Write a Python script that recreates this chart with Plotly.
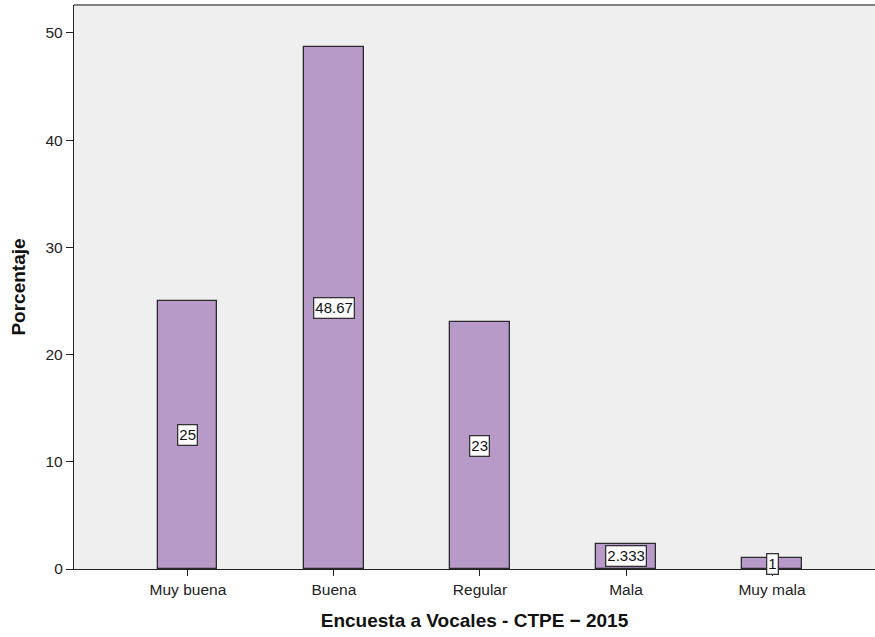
import plotly.graph_objects as go

categorias = ["Muy buena", "Buena", "Regular", "Mala", "Muy mala"]
porcentajes = [25, 48.67, 23, 2.333, 1]
etiquetas = ["25", "48.67", "23", "2.333", "1"]
y_ticks = [0, 10, 20, 30, 40, 50]

fig = go.Figure()
fig.add_trace(go.Bar(
    x=categorias,
    y=porcentajes,
    width=0.405,
    marker=dict(color="#B89AC8", line=dict(color="#2b2b2b", width=1.3)),
    hoverinfo="x+y",
))

# value boxes centred on each bar
for cat, val, lab in zip(categorias, porcentajes, etiquetas):
    fig.add_annotation(
        x=cat, y=val / 2, text=lab, showarrow=False,
        font=dict(family="Liberation Sans, Arial, sans-serif", size=15, color="#111"),
        bgcolor="white", bordercolor="#333", borderwidth=1.3, borderpad=1,
    )

# top frame line
fig.add_shape(type="line", xref="paper", yref="paper", x0=0, x1=1, y0=1, y1=1,
              line=dict(color="#808080", width=2))

fig.update_layout(
    width=875, height=637,
    margin=dict(l=74, r=0, t=5, b=68),
    paper_bgcolor="white",
    plot_bgcolor="#EFEFEF",
    showlegend=False,
    font=dict(family="Liberation Sans, Arial, sans-serif", size=15.5, color="#222"),
    bargap=0,
)
fig.update_xaxes(
    range=[-0.78, 4.705],
    showline=True, linecolor="#222", linewidth=1.3,
    ticks="outside", ticklen=6, tickcolor="#222", tickwidth=1.3,
    tickfont=dict(size=15.5),
    showgrid=False,
    title=dict(text="<b>Encuesta a Vocales - CTPE − 2015</b>",
               font=dict(size=19, color="#111"), standoff=16),
)
fig.update_yaxes(
    range=[0, 52.6],
    tickvals=y_ticks,
    showline=True, linecolor="#222", linewidth=1.3,
    ticks="outside", ticklen=7, tickcolor="#222", tickwidth=1.3,
    tickfont=dict(size=15.5),
    showgrid=False, zeroline=False,
    title=dict(text="<b>Porcentaje</b>", font=dict(size=19, color="#111"), standoff=14),
)

fig.write_html("out.html")
